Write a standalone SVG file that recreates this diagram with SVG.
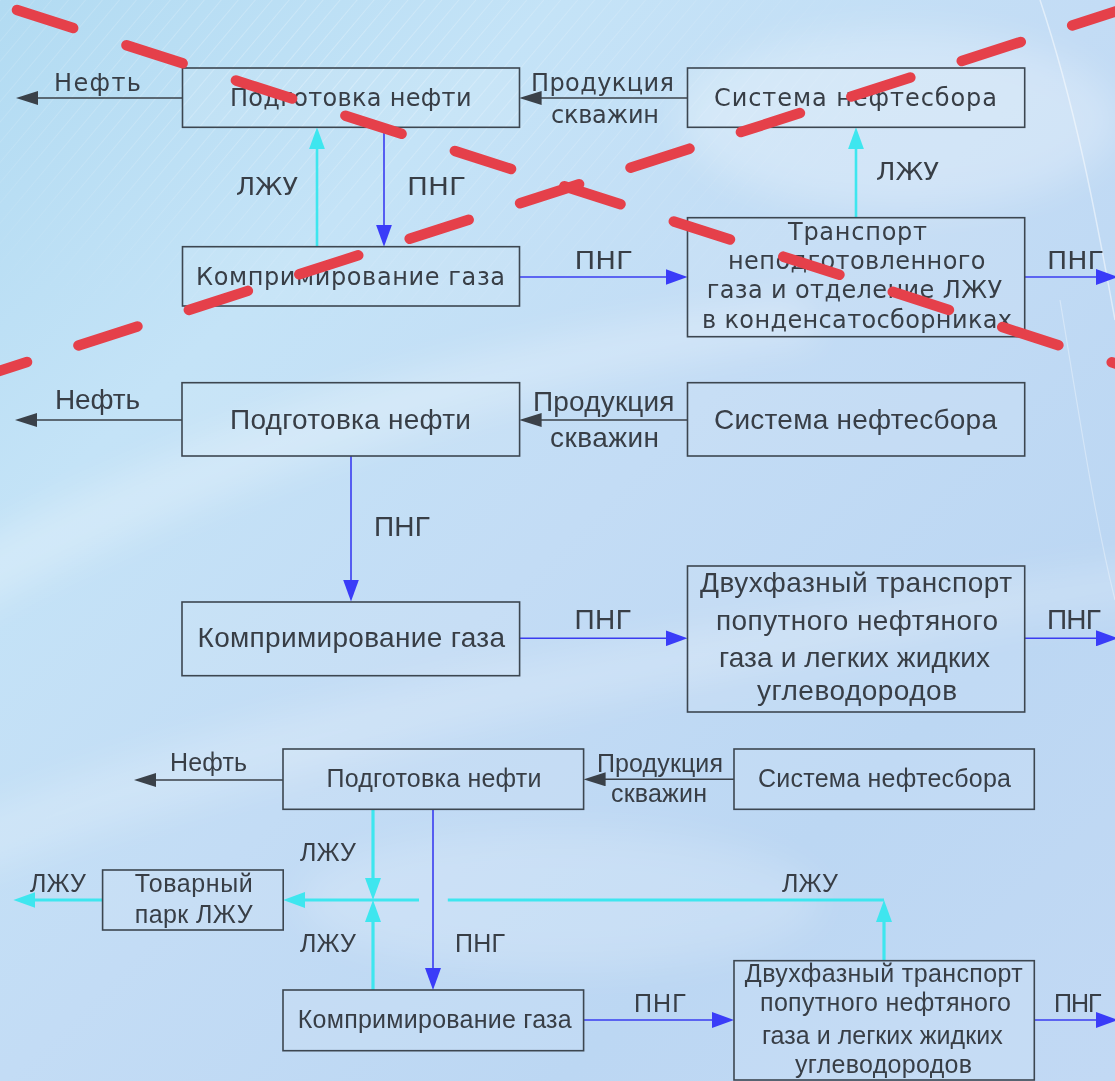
<svg xmlns="http://www.w3.org/2000/svg" width="1115" height="1081" viewBox="0 0 1115 1081">
<style>
.box{fill:#ffffff;fill-opacity:0.08;stroke:#3c4650;stroke-width:1.6}
.t{font-family:"Liberation Sans",Arial,sans-serif;fill:#383e46}
.d{font-family:"DejaVu Sans",Verdana,sans-serif;fill:#383e46;font-size:24px}
.s25{font-size:25px}
.s28{font-size:28px}
.dark{stroke:#3a4149;stroke-width:1.6;fill:none}
.blue{stroke:#3a3cf0;stroke-width:1.6;fill:none}
.cyan{stroke:#3ee6ef;stroke-width:2.6;fill:none}
.cyan3{stroke:#3ee6ef;stroke-width:3.2;fill:none}
.red{stroke:#e5404a;stroke-width:10.5;stroke-linecap:round;fill:none}
</style>
<defs>
<linearGradient id="bg" x1="0" y1="0" x2="1" y2="1">
<stop offset="0" stop-color="#b2dbf2"/>
<stop offset="0.25" stop-color="#c4e3f7"/>
<stop offset="0.5" stop-color="#c3dcf5"/>
<stop offset="0.75" stop-color="#bcd7f3"/>
<stop offset="1" stop-color="#c2d9f4"/>
</linearGradient>
<pattern id="streak" width="13" height="13" patternUnits="userSpaceOnUse" patternTransform="rotate(40)">
<line x1="0" y1="0" x2="0" y2="13" stroke="#ffffff" stroke-width="1.3" stroke-opacity="0.45"/>
</pattern>
<radialGradient id="fade" cx="0.3" cy="0.15" r="0.55">
<stop offset="0" stop-color="#fff" stop-opacity="1"/>
<stop offset="1" stop-color="#fff" stop-opacity="0"/>
</radialGradient>
<mask id="m1"><rect x="0" y="0" width="1115" height="500" fill="url(#fade)"/></mask>
<filter id="blur" x="-20%" y="-20%" width="140%" height="140%"><feGaussianBlur stdDeviation="18"/></filter>
<marker id="ah-dark" markerUnits="userSpaceOnUse" markerWidth="22" markerHeight="14" viewBox="0 0 22 14" refX="1" refY="7" orient="auto"><path d="M0,0 L22,7 L0,14 z" fill="#3a4149"/></marker>
<marker id="ah-blue" markerUnits="userSpaceOnUse" markerWidth="22" markerHeight="16" viewBox="0 0 22 16" refX="1" refY="8" orient="auto"><path d="M0,0 L22,8 L0,16 z" fill="#3a3cf8"/></marker>
<marker id="ah-cyan" markerUnits="userSpaceOnUse" markerWidth="22" markerHeight="16" viewBox="0 0 22 16" refX="1" refY="8" orient="auto"><path d="M0,0 L22,8 L0,16 z" fill="#3ee6ef"/></marker>
</defs>

<g id="background">
<rect x="0" y="0" width="1115" height="1081" fill="url(#bg)"/>
<g filter="url(#blur)" fill="#ffffff">
<path d="M-50,560 C200,420 500,330 800,300 L820,340 C520,380 240,470 -40,620 z" opacity="0.25"/>
<path d="M-40,820 C250,700 600,640 1150,560 L1150,600 C620,690 280,760 -40,880 z" opacity="0.2"/>
<ellipse cx="900" cy="120" rx="220" ry="90" opacity="0.25"/>
<ellipse cx="560" cy="900" rx="260" ry="70" opacity="0.18"/>
</g>
<rect x="0" y="0" width="1115" height="500" fill="url(#streak)" mask="url(#m1)"/>
<path d="M1040,0 C1080,120 1100,240 1115,320" stroke="#ffffff" stroke-opacity="0.5" stroke-width="1.5" fill="none"/>
<path d="M1060,300 C1080,420 1095,520 1115,600" stroke="#ffffff" stroke-opacity="0.35" stroke-width="1.2" fill="none"/>
</g>

<g id="connectors">
<!-- top section -->
<line class="dark" x1="182" y1="98" x2="37" y2="98" marker-end="url(#ah-dark)"/>
<line class="dark" x1="687.5" y1="98" x2="540.6" y2="98" marker-end="url(#ah-dark)"/>
<line class="cyan" x1="317" y1="246.7" x2="317" y2="148.3" marker-end="url(#ah-cyan)"/>
<line class="blue" x1="384" y1="127.3" x2="384" y2="225.7" marker-end="url(#ah-blue)"/>
<line class="cyan" x1="856" y1="217.7" x2="856" y2="148.3" marker-end="url(#ah-cyan)"/>
<line class="blue" x1="519.6" y1="277" x2="666.5" y2="277" marker-end="url(#ah-blue)"/>
<line class="blue" x1="1024.7" y1="277" x2="1097" y2="277" marker-end="url(#ah-blue)"/>
<!-- middle section -->
<line class="dark" x1="182" y1="420" x2="36" y2="420" marker-end="url(#ah-dark)"/>
<line class="dark" x1="687.5" y1="420" x2="540.6" y2="420" marker-end="url(#ah-dark)"/>
<line class="blue" x1="351" y1="456" x2="351" y2="580.5" marker-end="url(#ah-blue)"/>
<line class="blue" x1="519.6" y1="638.3" x2="666.5" y2="638.3" marker-end="url(#ah-blue)"/>
<line class="blue" x1="1024.7" y1="638.3" x2="1097" y2="638.3" marker-end="url(#ah-blue)"/>
<!-- bottom section -->
<line class="dark" x1="283" y1="780" x2="155" y2="780" marker-end="url(#ah-dark)"/>
<line class="dark" x1="734" y1="779.3" x2="604.6" y2="779.3" marker-end="url(#ah-dark)"/>
<line class="cyan3" x1="373" y1="809.3" x2="373" y2="879" marker-end="url(#ah-cyan)"/>
<line class="cyan3" x1="373" y1="990" x2="373" y2="921" marker-end="url(#ah-cyan)"/>
<line class="cyan3" x1="419" y1="900" x2="304.2" y2="900" marker-end="url(#ah-cyan)"/>
<line class="cyan3" x1="884" y1="900" x2="447.8" y2="900"/>
<line class="cyan3" x1="884" y1="960.7" x2="884" y2="921" marker-end="url(#ah-cyan)"/>
<line class="cyan3" x1="102.6" y1="900" x2="34.4" y2="900" marker-end="url(#ah-cyan)"/>
<line class="blue" x1="433" y1="809.3" x2="433" y2="969" marker-end="url(#ah-blue)"/>
<line class="blue" x1="583.6" y1="1020" x2="713" y2="1020" marker-end="url(#ah-blue)"/>
<line class="blue" x1="1034.3" y1="1020" x2="1097" y2="1020" marker-end="url(#ah-blue)"/>
</g>

<g id="labels">
<text class="d" x="54" y="91" textLength="87">Нефть</text>
<text class="d" x="531" y="91" textLength="143">Продукция</text>
<text class="d" x="551" y="123" textLength="108">скважин</text>
<text class="d" x="236" y="195" textLength="62" lengthAdjust="spacingAndGlyphs">ЛЖУ</text>
<text class="d" x="407" y="195" textLength="59" lengthAdjust="spacingAndGlyphs">ПНГ</text>
<text class="d" x="876" y="180" textLength="63" lengthAdjust="spacingAndGlyphs">ЛЖУ</text>
<text class="d" x="574.5" y="269" textLength="58.5" lengthAdjust="spacingAndGlyphs">ПНГ</text>
<text class="d" x="1047" y="269" textLength="57" lengthAdjust="spacingAndGlyphs">ПНГ</text>

<text class="t s28" x="55" y="409" textLength="85">Нефть</text>
<text class="t s28" x="533" y="410.7" textLength="141.5">Продукция</text>
<text class="t s28" x="550" y="447" textLength="109">скважин</text>
<text class="t s28" x="374" y="536" textLength="56">ПНГ</text>
<text class="t s28" x="574.5" y="629" textLength="56.5">ПНГ</text>
<text class="t s28" x="1047" y="629" textLength="54">ПНГ</text>

<text class="t s25" x="170" y="770.7" textLength="77">Нефть</text>
<text class="t s25" x="597" y="772.3" textLength="126">Продукция</text>
<text class="t s25" x="611" y="802" textLength="96">скважин</text>
<text class="t s25" x="300" y="860.7" textLength="56">ЛЖУ</text>
<text class="t s25" x="300" y="951.7" textLength="56">ЛЖУ</text>
<text class="t s25" x="30" y="891.7" textLength="56">ЛЖУ</text>
<text class="t s25" x="782" y="891.7" textLength="56">ЛЖУ</text>
<text class="t s25" x="455" y="951.7" textLength="50">ПНГ</text>
<text class="t s25" x="634" y="1011.7" textLength="51.7">ПНГ</text>
<text class="t s25" x="1054" y="1011.7" textLength="47.6">ПНГ</text>
</g>

<!-- top section nodes -->
<g id="top-oil-prep">
<rect class="box" x="182.5" y="68" width="337" height="59.3"/>
<text class="d" x="230" y="106" textLength="241.5">Подготовка нефти</text>
</g>
<g id="top-gathering">
<rect class="box" x="687.5" y="68" width="337.2" height="59.3"/>
<text class="d" x="714" y="106" textLength="283">Система нефтесбора</text>
</g>
<g id="top-compression">
<rect class="box" x="182.5" y="246.7" width="337" height="59.3"/>
<text class="d" x="196" y="284.5" textLength="309">Компримирование газа</text>
</g>
<g id="top-transport">
<rect class="box" x="687.5" y="217.7" width="337.2" height="119"/>
<text class="d" x="788" y="240" textLength="139">Транспорт</text>
<text class="d" x="728" y="269" textLength="257.5">неподготовленного</text>
<text class="d" x="706.7" y="298" textLength="295.3">газа и отделение ЛЖУ</text>
<text class="d" x="702" y="328" textLength="310">в конденсатосборниках</text>
</g>

<!-- middle section nodes -->
<g id="mid-oil-prep">
<rect class="box" x="182" y="382.7" width="337.6" height="73.3"/>
<text class="t s28" x="230" y="429" textLength="241">Подготовка нефти</text>
</g>
<g id="mid-gathering">
<rect class="box" x="687.5" y="382.7" width="337.2" height="73.3"/>
<text class="t s28" x="714" y="429" textLength="283">Система нефтесбора</text>
</g>
<g id="mid-compression">
<rect class="box" x="182" y="602" width="337.6" height="73.7"/>
<text class="t s28" x="197.5" y="647" textLength="307.5">Компримирование газа</text>
</g>
<g id="mid-transport">
<rect class="box" x="687.5" y="566" width="337.2" height="146"/>
<text class="t s28" x="700" y="592" textLength="312">Двухфазный транспорт</text>
<text class="t s28" x="716" y="629.5" textLength="282">попутного нефтяного</text>
<text class="t s28" x="719" y="667" textLength="271">газа и легких жидких</text>
<text class="t s28" x="757" y="700" textLength="200">углеводородов</text>
</g>

<!-- bottom section nodes -->
<g id="bot-oil-prep">
<rect class="box" x="283" y="749" width="300.6" height="60.3"/>
<text class="t s25" x="326.5" y="787" textLength="215">Подготовка нефти</text>
</g>
<g id="bot-gathering">
<rect class="box" x="734" y="749" width="300.3" height="60.3"/>
<text class="t s25" x="758" y="787" textLength="253">Система нефтесбора</text>
</g>
<g id="bot-storage">
<rect class="box" x="102.6" y="870" width="180.6" height="60"/>
<text class="t s25" x="134.7" y="891.7" textLength="118">Товарный</text>
<text class="t s25" x="134.7" y="922.7" textLength="118">парк ЛЖУ</text>
</g>
<g id="bot-compression">
<rect class="box" x="283" y="990" width="300.6" height="60.7"/>
<text class="t s25" x="297.7" y="1027.5" textLength="274">Компримирование газа</text>
</g>
<g id="bot-transport">
<rect class="box" x="734" y="960.7" width="300.3" height="119.3"/>
<text class="t s25" x="744.8" y="981.7" textLength="278">Двухфазный транспорт</text>
<text class="t s25" x="760" y="1010.7" textLength="251">попутного нефтяного</text>
<text class="t s25" x="762" y="1044" textLength="240.7">газа и легких жидких</text>
<text class="t s25" x="795" y="1073" textLength="177">углеводородов</text>
</g>

<g id="cross-out">
<line class="red" x1="17" y1="10" x2="1120" y2="365" stroke-dasharray="59 56"/>
<line class="red" x1="-32" y1="381" x2="1120" y2="10" stroke-dasharray="62 54"/>
</g>
</svg>
